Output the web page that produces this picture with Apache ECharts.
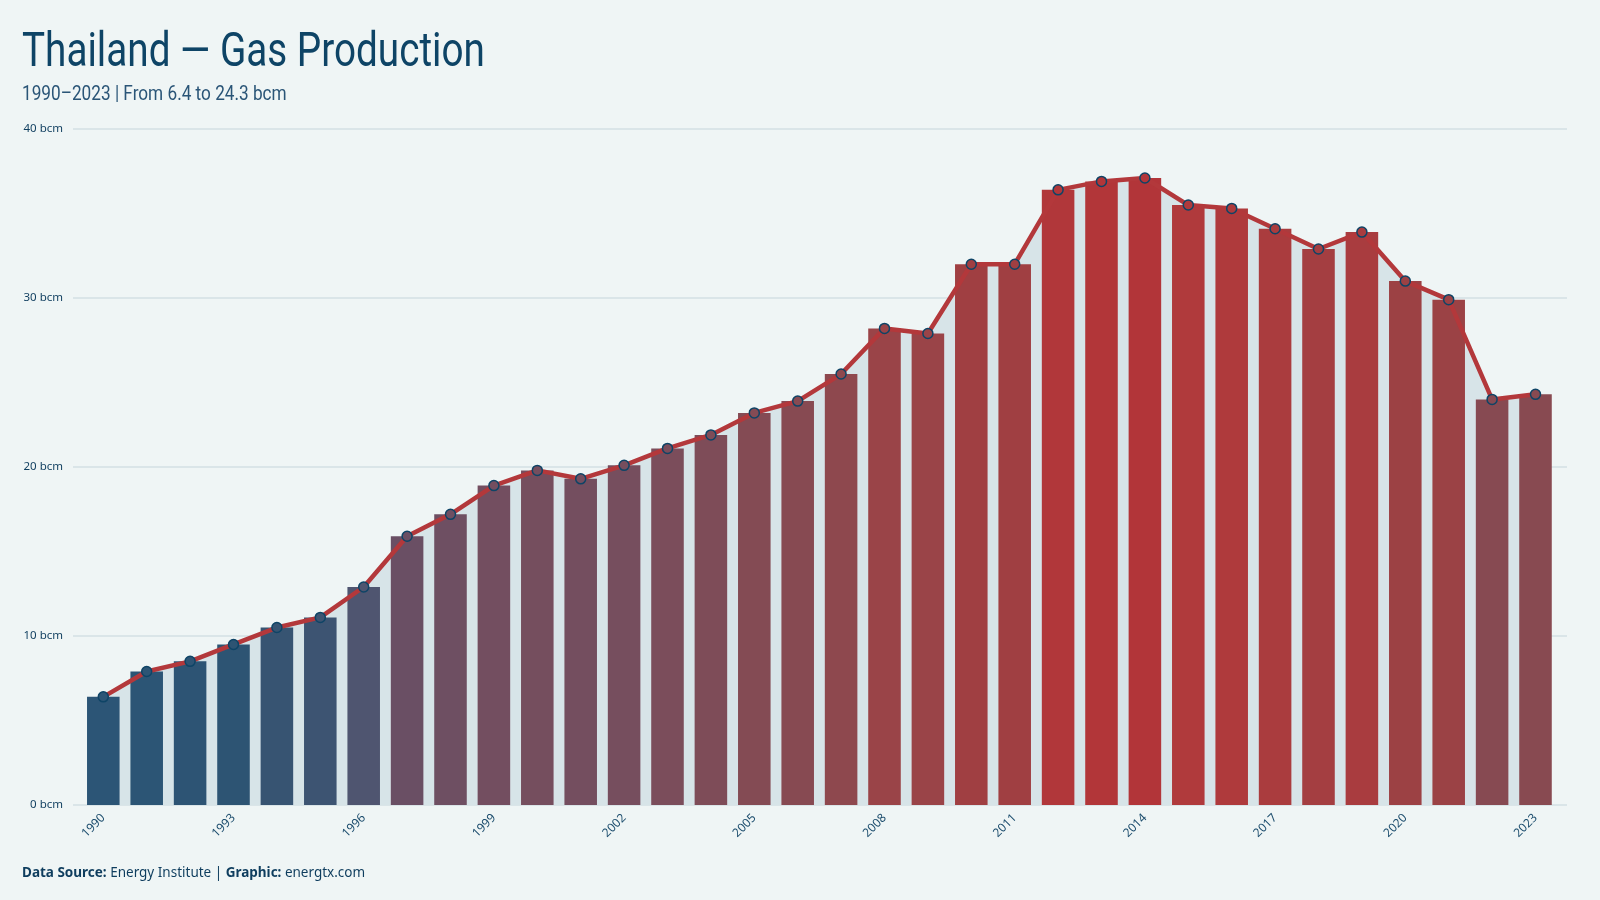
<!DOCTYPE html>
<html>
<head>
<meta charset="utf-8">
<script src="https://cdn.jsdelivr.net/npm/echarts@6/dist/echarts.min.js"></script>
<style>
html,body{margin:0;padding:0;background:#eff5f5;}
#chart{width:1600px;height:900px;}
</style>
</head>
<body>
<div id="chart"></div>
<script>
const years = ['1990','1991','1992','1993','1994','1995','1996','1997','1998','1999','2000','2001','2002','2003','2004','2005','2006','2007','2008','2009','2010','2011','2012','2013','2014','2015','2016','2017','2018','2019','2020','2021','2022','2023'];
const gasProduction = [6.4,7.9,8.5,9.5,10.5,11.1,12.9,15.9,17.2,18.9,19.8,19.3,20.1,21.1,21.9,23.2,23.9,25.5,28.2,27.9,32.0,32.0,36.4,36.9,37.1,35.5,35.3,34.1,32.9,33.9,31.0,29.9,24.0,24.3];
const yTicks = [0,10,20,30,40];
const titleText = 'Thailand — Gas Production';
const subtitleText = '1990–2023 | From 6.4 to 24.3 bcm';

// colour scale (value -> colour stops)
const colorStops = [
  [6.4, [44,85,118]], [9.5, [45,84,115]], [12.9, [79,85,112]], [15.9, [106,79,100]],
  [20.0, [118,78,94]], [24.0, [135,74,82]], [28.0, [154,68,72]], [31.0, [156,65,68]],
  [35.5, [176,58,60]], [37.1, [178,53,57]]
];
function colorFor(v){
  if (v <= colorStops[0][0]) return 'rgb(' + colorStops[0][1].join(',') + ')';
  for (let i = 1; i < colorStops.length; i++) {
    if (v <= colorStops[i][0]) {
      const [v0, c0] = colorStops[i-1], [v1, c1] = colorStops[i];
      const t = (v - v0) / (v1 - v0);
      return 'rgb(' + c0.map((a,k)=>Math.round(a + (c1[k]-a)*t)).join(',') + ')';
    }
  }
  return 'rgb(' + colorStops[colorStops.length-1][1].join(',') + ')';
}

const chart = echarts.init(document.getElementById('chart'));
const gridTop = 129, gridBottom = 95;
chart.setOption({
  backgroundColor: '#eff5f5',
  animation: false,
  graphic: [
    {type:'text', x:22, y:30, scaleX:0.806, style:{text:titleText, fontFamily:'Roboto', fontSize:48, fill:'#0e4466', verticalAlign:'top', textVerticalAlign:'top'}},
    {type:'text', x:22, y:85, scaleX:0.86, style:{text:subtitleText, fontFamily:'Roboto', fontSize:20, fill:'#2a5577', verticalAlign:'top', textVerticalAlign:'top'}}
  ],
  title: [
    {text: '{b|Data Source:} Energy Institute | {b|Graphic:} energtx.com', left: 17, top: 861,
     textStyle:{fontFamily:'Noto Sans, sans-serif', fontSize:13.5, fontWeight:'normal', color:'#0e3d5e',
       rich:{b:{fontFamily:'Noto Sans, sans-serif', fontSize:13.5, fontWeight:'bold', color:'#0e3d5e'}}}}
  ],
  grid: [
    {left: 73, right: 33, top: gridTop, bottom: gridBottom},
    {left: 81.6, right: 42.8, top: gridTop, bottom: gridBottom}
  ],
  xAxis: [
    {gridIndex:0, type:'value', min:0, max:1, show:false},
    {gridIndex:1, type:'category', data: years, boundaryGap:true,
     axisLine:{show:false}, axisTick:{show:false},
     axisLabel:{interval:(i)=> i%3===0, rotate:45, fontSize:12, color:'#1d4e6e', margin:11, fontFamily:'Noto Sans, sans-serif'}}
  ],
  yAxis: [
    {gridIndex:0, type:'value', min: yTicks[0], max: yTicks[yTicks.length-1], interval:10,
     axisLine:{show:false}, axisTick:{show:false},
     axisLabel:{formatter:'{value} bcm', fontSize:11.5, color:'#0e3d5e', margin:10, fontFamily:'Noto Sans, sans-serif'},
     splitLine:{lineStyle:{color:'#d3dfe3', width:1.5}}},
    {gridIndex:1, type:'value', min: yTicks[0], max: yTicks[yTicks.length-1], interval:10, show:false, splitLine:{show:false}}
  ],
  series: [
    {type:'line', xAxisIndex:1, yAxisIndex:1, data: gasProduction, symbol:'none', z:1,
     lineStyle:{width:0}, areaStyle:{color:'#d7e4e8', opacity:1}},
    {type:'bar', xAxisIndex:1, yAxisIndex:1, barWidth:'75%', z:2,
     data: gasProduction.map(v=>({value:v, itemStyle:{color:colorFor(v)}}))},
    {type:'line', xAxisIndex:1, yAxisIndex:1, z:3, symbol:'circle', symbolSize:10,
     lineStyle:{color:'#b3383b', width:4.5},
     data: gasProduction.map(v=>({value:v, itemStyle:{color:colorFor(v), borderColor:'#0e4466', borderWidth:1.5}}))}
  ]
});
</script>
</body>
</html>
